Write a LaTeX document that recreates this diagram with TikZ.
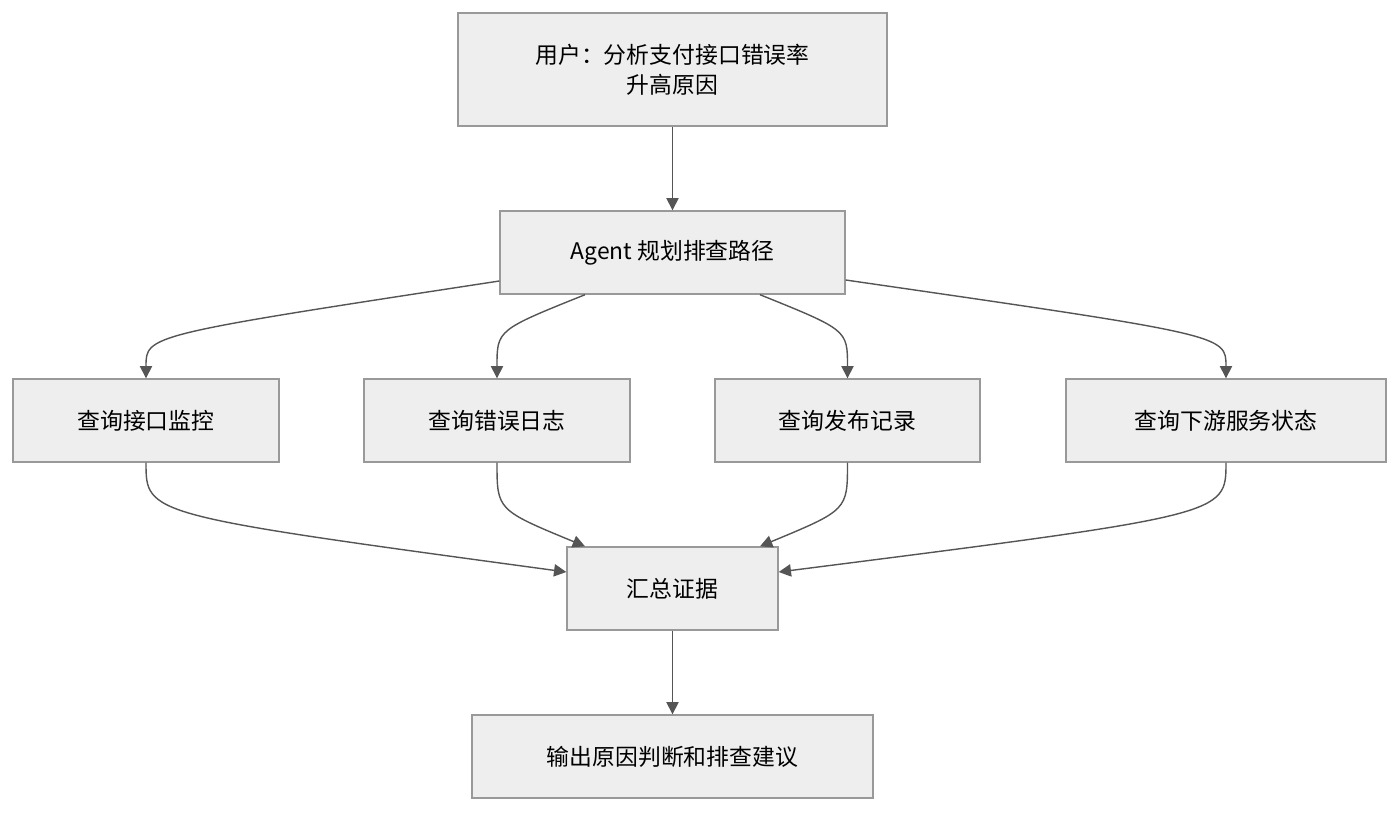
\documentclass[tikz,border=0pt]{standalone}
\usepackage{fontspec}
\setmainfont{Noto Sans CJK SC}
\usetikzlibrary{calc,arrows.meta}
\definecolor{boxfill}{HTML}{EEEEEE}
\definecolor{boxline}{HTML}{999999}
\definecolor{edgeline}{HTML}{555555}
\tikzset{stepbox/.style={rectangle,fill=boxfill,draw=boxline,thick,align=center,
minimum height=1.66cm,inner sep=0pt,font=\fontsize{13}{17}\selectfont},
flow/.style={draw=edgeline,thick,-{Triangle[length=7pt,width=7pt]}}}
\begin{document}
\begin{tikzpicture}[x=0.02cm,y=-0.02cm]
  \useasboundingbox (0,0) rectangle (1400,812);
  \node (user) [stepbox,minimum width=8.58cm,minimum height=2.26cm] at (672.5,69.5) {用户：分析支付接口错误率\\升高原因};
  \node (plan) [stepbox,minimum width=6.9cm] at (672.5,252.5) {Agent 规划排查路径};
  \node (mon) [stepbox,minimum width=5.32cm] at (146,420.5) {查询接口监控};
  \node (log) [stepbox,minimum width=5.32cm] at (497,420.5) {查询错误日志};
  \node (rel) [stepbox,minimum width=5.3cm] at (847.5,420.5) {查询发布记录};
  \node (down) [stepbox,minimum width=6.4cm] at (1226,420.5) {查询下游服务状态};
  \node (sum) [stepbox,minimum width=4.22cm] at (672.5,588.5) {汇总证据};
  \node (out) [stepbox,minimum width=8.02cm] at (672.5,756.5) {输出原因判断和排查建议};

  \draw [flow] (user) -- (plan);
  \draw [flow] ($(plan.west)+(0,28.5)$) .. controls (146,335) .. (mon.north);
  \draw [flow] ($(plan.south)+(-87.5,0)$) .. controls (497,330) .. (log.north);
  \draw [flow] ($(plan.south)+(87.5,0)$) .. controls (847.5,330) .. (rel.north);
  \draw [flow] ($(plan.east)+(0,27.5)$) .. controls (1226,335) .. (down.north);
  \draw [flow] (mon.south) .. controls (146,515) .. ($(sum.west)+(0,-16.5)$);
  \draw [flow] (log.south) .. controls (497,510) .. ($(sum.north)+(-87.5,0)$);
  \draw [flow] (rel.south) .. controls (847.5,510) .. ($(sum.north)+(87.5,0)$);
  \draw [flow] (down.south) .. controls (1226,515) .. ($(sum.east)+(0,-16.5)$);
  \draw [flow] (sum) -- (out);
\end{tikzpicture}
\end{document}
